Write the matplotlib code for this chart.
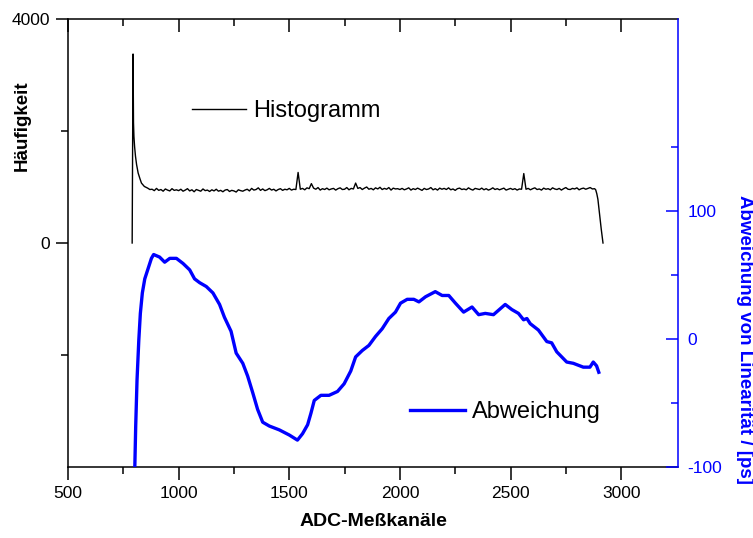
import matplotlib
matplotlib.use("Agg")
import matplotlib.pyplot as plt
import numpy as np

plt.rcParams['font.family'] = ['Liberation Sans', 'DejaVu Sans']
plt.rcParams['axes.unicode_minus'] = False

# Histogramm (left axis): onset, regular 10-channel body, falling edge
hist_head_ch = [790, 794, 796, 798, 801, 805, 810, 817, 825, 832, 845, 860, 870]
hist_head = [0, 3375, 2150, 1900, 1720, 1550, 1400, 1250, 1150, 1070, 1010, 980, 955]

hist_body_start = 880
hist_body = [
    960, 935, 975, 940, 955, 925, 965, 945, 930, 970, 940, 950, 935,
    960, 925, 945, 970, 930, 950, 915, 955, 940, 925, 965, 935, 945, 920, 950,
    930, 960, 925, 940, 915, 945, 955, 920, 940, 930, 910, 950, 935, 925, 945,
    960, 930, 975, 945, 955, 985, 940, 965, 935, 950, 975, 945, 960, 930, 955,
    970, 940, 960, 950, 975, 945, 960, 955,
    1260,
    960, 975, 950, 985, 970,
    1060,
    980, 960, 990, 945, 970, 955, 980, 950, 965, 975, 945, 970, 985, 955, 960,
    990, 950, 975, 965,
    1070,
    975, 990, 955, 980, 1000, 960, 975, 950, 985, 965, 995, 955, 975, 960, 990,
    945, 980, 965, 970, 955,
    975, 950, 965, 985, 945, 970, 955, 980, 960, 940,
    975, 955, 965, 990, 950, 970, 945, 980, 960, 975,
    955, 985, 950, 965, 940, 970, 980, 955, 965, 950,
    985, 960, 945, 975, 965, 955, 980, 950, 970, 945,
    960, 985, 955, 970, 950, 965, 980, 945, 960, 975,
    955, 970, 945, 965, 960,
    1240,
    960, 975, 950, 970, 985, 955, 965, 945, 980, 960, 970, 950, 985, 965, 955,
    975, 945, 970, 990, 960, 955, 975, 965, 985, 950, 970, 980, 960, 975, 990,
    965, 970,
]

hist_tail_ch = [2885, 2890, 2895, 2900, 2905, 2910, 2918]
hist_tail = [950, 880, 780, 600, 430, 250, 0]

# Abweichung von Linearität (right axis, ps)
dev_ch = [798, 802, 806, 812, 820, 827, 836, 847, 862, 877, 887, 914, 937, 960,
          990, 1020, 1050, 1072, 1095, 1125, 1155, 1185, 1207, 1237, 1260, 1290,
          1312, 1335, 1357, 1380, 1410, 1455, 1500, 1537, 1560, 1583, 1598, 1613,
          1643, 1680, 1718, 1748, 1778, 1800, 1830, 1860, 1890, 1920, 1950, 1980,
          2003, 2033, 2063, 2086, 2116, 2160, 2191, 2221, 2251, 2288, 2326, 2356,
          2386, 2423, 2476, 2506, 2536, 2559, 2574, 2589, 2626, 2664, 2686, 2709,
          2754, 2784, 2829, 2859, 2874, 2889, 2899]
dev_ps = [-130, -100, -68, -32, -1, 20, 36, 47, 55, 63, 66, 64, 60, 63,
          63, 59, 54, 47, 44, 41, 36, 27, 17, 6, -11, -19,
          -29, -42, -55, -65, -68, -71, -75, -79, -74, -67, -58, -48,
          -44, -44, -41, -35, -25, -14, -9, -5, 2, 8, 16, 21,
          28, 31, 31, 29, 33, 37, 34, 34, 28, 21, 25, 19,
          20, 19, 27, 23, 20, 15, 16, 12, 7, -2, -3, -10,
          -18, -19, -22, -22, -18, -21, -26]

hist_ch = np.concatenate([hist_head_ch,
                          hist_body_start + 10 * np.arange(len(hist_body)),
                          hist_tail_ch])
hist_counts = np.concatenate([hist_head, hist_body, hist_tail])

fig = plt.figure(figsize=(7.53, 5.38), dpi=100)
ax = fig.add_axes([68 / 753, 1 - 467 / 538, 610 / 753, 448 / 538])
ax2 = ax.twinx()

ax.plot(hist_ch, hist_counts, color='black', lw=1.0, label='Histogramm')
ax2.plot(dev_ch, dev_ps, color='#0000ff', lw=2.4, label='Abweichung')

ax.set_xlim(500, 3257)
ax.set_ylim(-4000, 4000)
ax2.set_ylim(-100, 250)

# ticks
ax.set_xticks([500, 1000, 1500, 2000, 2500, 3000])
ax.set_xticks([750, 1250, 1750, 2250, 2750], minor=True)
ax.set_yticks([0, 4000])
ax.set_yticks([-2000, 2000], minor=True)
ax2.set_yticks([-100, 0, 100])
ax2.set_yticks([-50, 50, 150], minor=True)

ax.tick_params(axis='both', which='major', direction='out', length=9, width=1.1,
               labelsize=12.5, pad=4)
ax.tick_params(axis='both', which='minor', direction='out', length=5, width=1.1)
ax.tick_params(axis='x', which='major', pad=5)
ax2.tick_params(axis='y', which='major', direction='in', length=9, width=1.1,
                colors='#0000ff', labelsize=12.5, pad=7)
ax2.tick_params(axis='y', which='minor', direction='in', length=5, width=1.1,
                colors='#0000ff')

top = ax.secondary_xaxis('top')
top.set_xticks([500, 1000, 1500, 2000, 2500, 3000])
top.set_xticks([750, 1250, 1750, 2250, 2750], minor=True)
top.tick_params(which='major', direction='in', length=9, width=1.1, labeltop=False)
top.tick_params(which='minor', direction='in', length=5, width=1.1)
top.spines['top'].set_linewidth(1.1)

for s in ['left', 'bottom']:
    ax.spines[s].set_linewidth(1.1)
ax.spines['right'].set_visible(False)
ax.spines['top'].set_visible(False)
ax2.spines['right'].set_color('#0000ff')
ax2.spines['right'].set_linewidth(1.1)
for s in ['left', 'top', 'bottom']:
    ax2.spines[s].set_visible(False)

ax.set_xlabel('ADC-Meßkanäle', fontsize=14, fontweight='bold', labelpad=8)
fig.text(22 / 753, 1 - 126 / 538, 'Häufigkeit', rotation=90, ha='center',
         va='center', fontsize=13.5, fontweight='bold')
fig.text(744 / 753, 1 - 339 / 538, 'Abweichung von Linearität / [ps]',
         rotation=270, ha='center', va='center', fontsize=13.5,
         fontweight='bold', color='#0000ff')

ax.legend(loc='center left', bbox_to_anchor=(0.203, 0.795), frameon=False,
          fontsize=17, handlelength=2.3, handletextpad=0.3, borderpad=0,
          borderaxespad=0)
ax2.legend(loc='center left', bbox_to_anchor=(0.561, 0.123), frameon=False,
           fontsize=17, handlelength=2.3, handletextpad=0.3, borderpad=0,
           borderaxespad=0)

fig.savefig('out.png', dpi=100)
